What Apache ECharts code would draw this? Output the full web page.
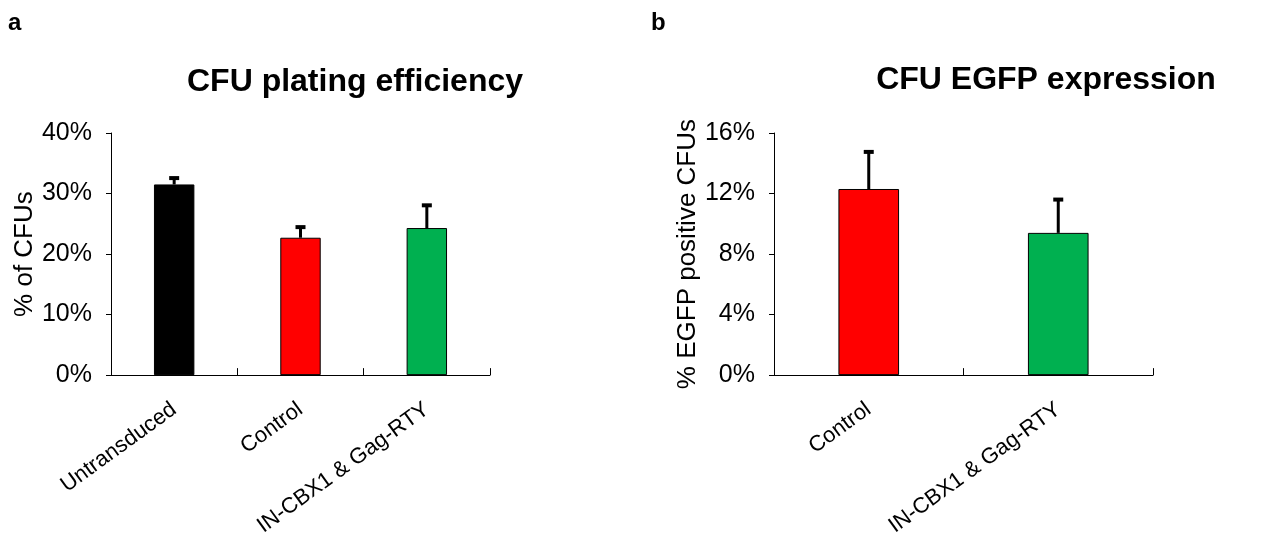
<!DOCTYPE html>
<html>
<head>
<meta charset="utf-8">
<script src="https://cdn.jsdelivr.net/npm/echarts@6/dist/echarts.min.js"></script>
<style>
html,body{margin:0;padding:0;background:#fff;}
#chart{width:1279px;height:539px;}
</style>
</head>
<body>
<div id="chart"></div>
<script>
// Panel a
const catsA = ['Untransduced', 'Control', 'IN-CBX1 & Gag-RTY'];
const valsA = [31.5, 22.7, 24.3];
const errA = [1.3, 2.0, 4.0];
const colorsA = ['#000000', '#FF0000', '#00B050'];
const ticksA = { min: 0, max: 40, interval: 10 };
// Panel b
const catsB = ['Control', 'IN-CBX1 & Gag-RTY'];
const valsB = [12.3, 9.4];
const errB = [2.55, 2.3];
const colorsB = ['#FF0000', '#00B050'];
const ticksB = { min: 0, max: 16, interval: 4 };

const FONT = '"Liberation Sans", Arial, sans-serif';

function errRender(vals, errs) {
  return function (params, api) {
    const i = api.value(0);
    const p0 = api.coord([i, vals[i]]);
    const p1 = api.coord([i, vals[i] + errs[i]]);
    return {
      type: 'group',
      children: [
        { type: 'line', shape: { x1: p0[0], y1: p0[1], x2: p1[0], y2: p1[1] + 1 },
          style: { stroke: '#000', lineWidth: 3 } },
        { type: 'line', shape: { x1: p1[0] - 5, y1: p1[1] + 1.5, x2: p1[0] + 5, y2: p1[1] + 1.5 },
          style: { stroke: '#000', lineWidth: 4 } }
      ]
    };
  };
}

function yAxis(gi, t, name) {
  return {
    type: 'value', gridIndex: gi, min: t.min, max: t.max, interval: t.interval,
    name: name, nameLocation: 'middle', nameGap: 68, nameRotate: 90,
    nameTextStyle: { fontFamily: FONT, fontSize: 26, color: '#000' },
    axisLine: { show: true, lineStyle: { color: '#000', width: 1 } },
    axisTick: { show: true, inside: false, length: 5, lineStyle: { color: '#000' } },
    splitLine: { show: false },
    axisLabel: { fontFamily: FONT, fontSize: 25, color: '#000', margin: 19,
      formatter: v => v + '%' }
  };
}
function xAxis(gi, cats) {
  return {
    type: 'category', gridIndex: gi, data: cats,
    axisLine: { show: true, lineStyle: { color: '#000', width: 1 } },
    axisTick: { show: true, inside: true, length: 7, alignWithLabel: false, lineStyle: { color: '#000' } },
    axisLabel: { interval: 0, rotate: 36, fontFamily: FONT, fontSize: 22, color: '#000', margin: 32 }
  };
}

const chart = echarts.init(document.getElementById('chart'), null, { renderer: 'canvas' });
chart.setOption({
  animation: false,
  backgroundColor: '#fff',
  graphic: [
    { type: 'text', left: 8, top: 11, style: { text: 'a', font: 'bold 24px ' + FONT, fill: '#000' } },
    { type: 'text', left: 651, top: 11, style: { text: 'b', font: 'bold 24px ' + FONT, fill: '#000' } },
    { type: 'text', x: 355, y: 82, style: { text: 'CFU plating efficiency', font: 'bold 32px ' + FONT, fill: '#000', align: 'center', verticalAlign: 'middle' } },
    { type: 'text', x: 1046, y: 80, style: { text: 'CFU EGFP expression', font: 'bold 32px ' + FONT, fill: '#000', align: 'center', verticalAlign: 'middle' } }
  ],
  grid: [
    { left: 111, top: 133, width: 379, height: 243 },
    { left: 774, top: 133, width: 379, height: 243 }
  ],
  xAxis: [xAxis(0, catsA), xAxis(1, catsB)],
  yAxis: [yAxis(0, ticksA, '% of CFUs'), yAxis(1, ticksB, '% EGFP positive CFUs')],
  series: [
    { type: 'bar', xAxisIndex: 0, yAxisIndex: 0, barWidth: '32%',
      data: valsA.map((v, i) => ({ value: v, itemStyle: { color: colorsA[i] } })),
      itemStyle: { borderColor: '#000', borderWidth: 1 } },
    { type: 'custom', xAxisIndex: 0, yAxisIndex: 0, z: 5,
      data: valsA.map((v, i) => [i, v]), renderItem: errRender(valsA, errA) },
    { type: 'bar', xAxisIndex: 1, yAxisIndex: 1, barWidth: '32%',
      data: valsB.map((v, i) => ({ value: v, itemStyle: { color: colorsB[i] } })),
      itemStyle: { borderColor: '#000', borderWidth: 1 } },
    { type: 'custom', xAxisIndex: 1, yAxisIndex: 1, z: 5,
      data: valsB.map((v, i) => [i, v]), renderItem: errRender(valsB, errB) }
  ]
});
</script>
</body>
</html>
